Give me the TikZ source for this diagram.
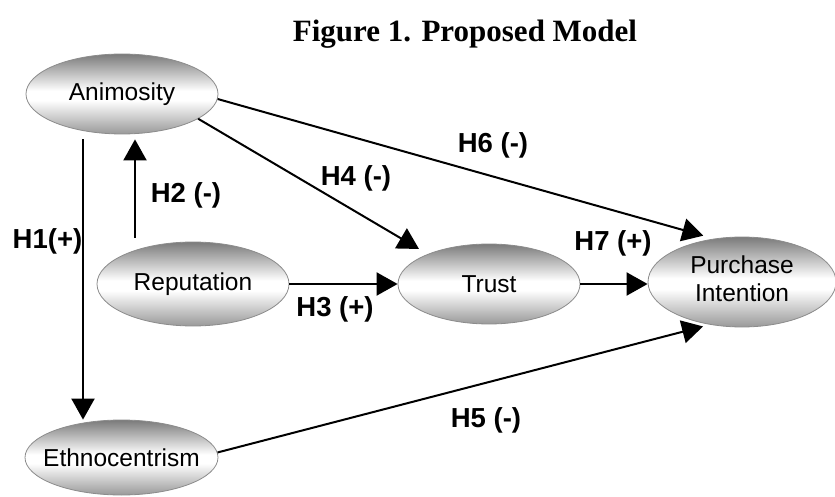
\documentclass[tikz,border=0pt]{standalone}
\usepackage{fontspec}
\setmainfont{Liberation Serif}
\setsansfont{Liberation Sans}
\usetikzlibrary{arrows.meta,shapes.geometric}
\pgfdeclareverticalshading{ellshade}{100bp}{color(0bp)=(black!40); color(25bp)=(black!40); color(46bp)=(white); color(52bp)=(white); color(75bp)=(black!52); color(100bp)=(black!52)}
\newcommand{\zw}[1]{\hbox to 0pt{\hss#1\hss}}
\tikzset{
  latent/.style={ellipse, draw=black!45, line width=0.8pt, shade, shading=ellshade, inner sep=0pt,
    font=\sffamily\fontsize{24.5}{28}\selectfont},
  hyp/.style={font=\sffamily\bfseries\fontsize{27.5}{30}\selectfont, anchor=base, inner sep=0pt},
  arr/.style={line width=2pt, -{Triangle[length=21pt,width=23pt]}},
  ttl/.style={font=\bfseries\fontsize{31}{34}\selectfont, anchor=base, inner sep=0pt}
}
\begin{document}
\begin{tikzpicture}[x=1pt,y=-1pt]
\useasboundingbox (0,0) rectangle (835,497);
\node[ttl] (title) at (465,42) {Figure 1. Proposed Model};
\node[latent, minimum width=192pt, minimum height=80pt] (anim) at (122,94) {\zw{Animosity}};
\node[latent, minimum width=192pt, minimum height=84pt] (rep) at (193,284) {\zw{Reputation}};
\node[latent, minimum width=182pt, minimum height=80pt] (trust) at (489,284) {\zw{Trust}};
\node[latent, minimum width=188pt, minimum height=90pt] (pi) at (742,282) {\zw{\begin{tabular}{@{}c@{}}Purchase\\Intention\end{tabular}}};
\node[latent, minimum width=193pt, minimum height=75pt] (ethno) at (121.5,457.5) {\zw{Ethnocentrism}};
\coordinate (c1) at (83,0);
\coordinate (c2) at (135,0);
\draw[arr, shorten <=5pt] (anim.south -| c1) -- (ethno.north -| c1);
\draw[arr, shorten <=4pt, shorten >=5pt] (rep.north -| c2) -- (anim.south -| c2);
\draw[arr] (rep.east) -- (trust.west);
\draw[arr] (trust.east) -- (pi.west |- trust.east);
\draw[arr, shorten >=10pt] (anim.-18) -- (trust.154);
\draw[arr, shorten >=11pt] (anim.-3) -- (pi.123);
\draw[arr, shorten >=7pt] (ethno.3) -- (pi.233);
\node[hyp] (h1) at (47.5,248) {H1(+)};
\node[hyp] (h2) at (186,203) {H2 (-)};
\node[hyp] (h3) at (335,316) {H3 (+)};
\node[hyp] (h4) at (356,186) {H4 (-)};
\node[hyp] (h5) at (486,427) {H5 (-)};
\node[hyp] (h6) at (493,153) {H6 (-)};
\node[hyp] (h7) at (613,250) {H7 (+)};
\end{tikzpicture}
\end{document}
